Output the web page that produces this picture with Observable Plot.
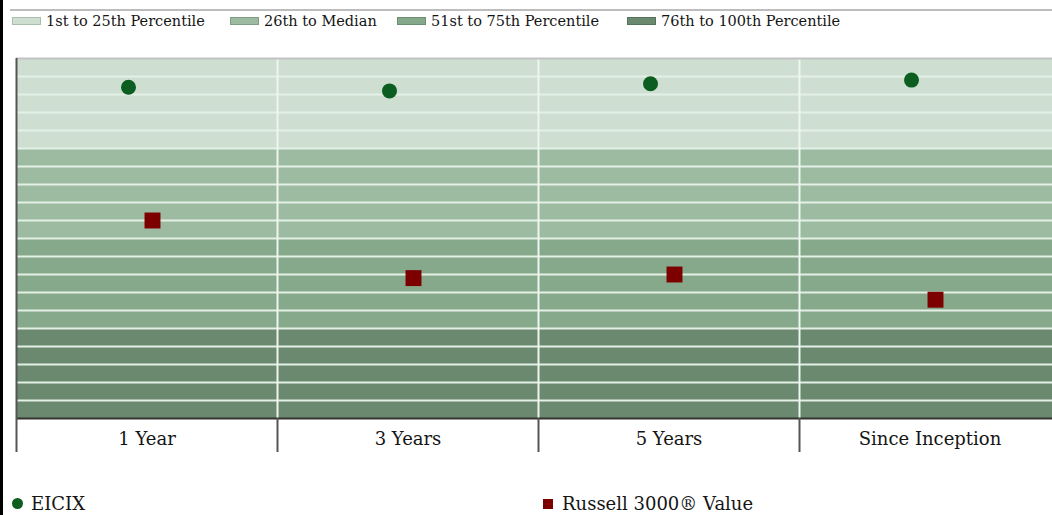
<!DOCTYPE html>
<html>
<head>
<meta charset="utf-8">
<script src="https://cdn.jsdelivr.net/npm/d3@7"></script>
<script src="https://cdn.jsdelivr.net/npm/@observablehq/plot@0.6"></script>
<style>
  html, body { margin: 0; padding: 0; background: #fff; }
  #page { position: relative; width: 1052px; height: 515px; overflow: hidden; font-family: "DejaVu Serif", serif; color: #151515; }
  #leftbar { position: absolute; left: 0; top: 0; width: 3px; height: 515px; background: #000; }
  #topline { position: absolute; left: 10px; right: 0; top: 9px; height: 2px; background: #bdbdbd; }
  #legend { position: absolute; top: 12px; left: 12px; font-size: 14.5px; white-space: nowrap; }
  .li { position: absolute; top: 0; height: 18px; line-height: 18px; }
  .sw { display: inline-block; width: 29px; height: 8px; vertical-align: middle; margin-right: 5px; margin-top: -3px; box-sizing: border-box; }
  #chart { position: absolute; left: 0; top: 50px; width: 1070px; }
  #chart svg { max-width: none; }
  #bottomlegend { position: absolute; top: 493px; left: 0; width: 1052px; font-size: 18px; white-space: nowrap; }
  .bl { position: absolute; top: 0; height: 22px; line-height: 22px; }
  .bdot { display: inline-block; width: 11px; height: 11px; border-radius: 50%; background: #0b5e1f; vertical-align: middle; margin-right: 8px; margin-top: -3px; }
  .bsq { display: inline-block; width: 10px; height: 10px; background: #7d0000; vertical-align: middle; margin-right: 9px; margin-top: -3px; }
</style>
</head>
<body>
<div id="page">
  <div id="leftbar"></div>
  <div id="topline"></div>
  <div id="legend"></div>
  <div id="chart"></div>
  <div id="bottomlegend"></div>
</div>
<script>
// ---- data ----
const periods = ["1 Year", "3 Years", "5 Years", "Since Inception"];
const eicixRank = [8, 9, 7, 6];
const russellRank = [45, 61, 60, 67];
const seriesNames = ["EICIX", "Russell 3000\u00AE Value"];
const bandLabels = ["1st to 25th Percentile", "26th to Median", "51st to 75th Percentile", "76th to 100th Percentile"];
const bandStart = [0, 25, 50, 75];
const bandEnd = [25, 50, 75, 100];
const bandColors = ["#cedfd2", "#9dbba1", "#85a98a", "#6a896e"];
const swatchBorders = ["#a9bfae", "#7f9f84", "#6c8f72", "#55735a"];
const gridTicks = [5, 10, 15, 20, 25, 30, 35, 40, 45, 50, 55, 60, 65, 70, 75, 80, 85, 90, 95];
const legendX = [0, 218, 385, 615];
const bottomLegendX = [12, 543];

// ---- top legend ----
const legend = document.getElementById("legend");
bandLabels.forEach((lab, i) => {
  const el = document.createElement("span");
  el.className = "li";
  el.style.left = legendX[i] + "px";
  el.innerHTML = `<span class="sw" style="background:${bandColors[i]};border:1px solid ${swatchBorders[i]}"></span>${lab}`;
  legend.appendChild(el);
});

// ---- bottom legend ----
const bl = document.getElementById("bottomlegend");
seriesNames.forEach((name, i) => {
  const el = document.createElement("span");
  el.className = "bl";
  el.style.left = bottomLegendX[i] + "px";
  el.innerHTML = `<span class="${i === 0 ? "bdot" : "bsq"}"></span>${name}`;
  bl.appendChild(el);
});

// ---- chart ----
const bands = bandLabels.map((label, i) => ({label, y1: bandStart[i], y2: bandEnd[i], fill: bandColors[i]}));
const eicix = periods.map((p, i) => ({period: p, idx: i, value: eicixRank[i]}));
const russell = periods.map((p, i) => ({period: p, idx: i, value: russellRank[i]}));
const boundaries = periods.map((p, i) => i);
const centers = periods.map((p, i) => i + 0.5);

const chart = Plot.plot({
  width: 1070,
  height: 408,
  marginLeft: 16,
  marginRight: 10,
  marginTop: 8,
  marginBottom: 40,
  style: {fontFamily: "DejaVu Serif, serif", background: "transparent", color: "#151515", maxWidth: "none"},
  x: {type: "linear", domain: [0, periods.length]},
  y: {domain: [0, 100], reverse: true, axis: null},
  marks: [
    Plot.rect(bands, {y1: "y1", y2: "y2", fill: "fill"}),
    Plot.ruleY(gridTicks, {stroke: "#e3f0e5", strokeWidth: 2}),
    Plot.ruleX(boundaries.slice(1), {stroke: "#eef6ef", strokeWidth: 2}),
    Plot.ruleY([0], {stroke: "#c2c2c2", strokeWidth: 2}),
    Plot.ruleY([100], {stroke: "#333", strokeWidth: 2}),
    Plot.ruleX([0], {stroke: "#555", strokeWidth: 2}),
    Plot.axisX({ticks: boundaries, tickSize: 34, stroke: "#555", strokeWidth: 2, tickFormat: () => ""}),
    Plot.axisX({ticks: centers, tickSize: 0, tickPadding: 14, fontSize: 18, fill: "#151515",
      tickFormat: d => periods[Math.floor(d)]}),
    Plot.dot(eicix, {x: d => d.idx + 0.5, y: "value", r: 7.5, fill: "#0b5e1f", dx: -18.5}),
    Plot.dot(russell, {x: d => d.idx + 0.5, y: "value", symbol: "square", r: 9, fill: "#7d0000", dx: 5.5})
  ]
});
document.getElementById("chart").appendChild(chart);
</script>
</body>
</html>
